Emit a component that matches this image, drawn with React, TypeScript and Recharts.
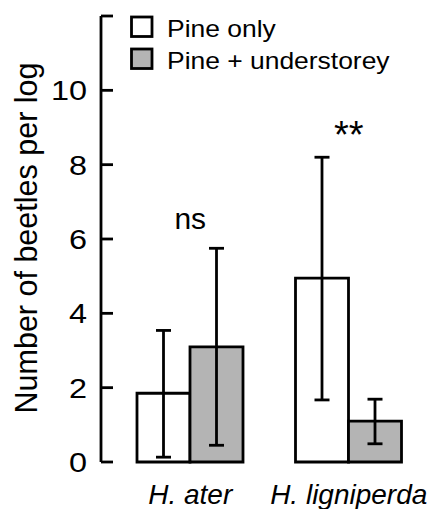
import React from "react";
import {
  BarChart,
  Bar,
  XAxis,
  YAxis,
  ErrorBar,
  Legend,
  ReferenceDot,
} from "recharts";

// species on the x axis
const species = ["H. ater", "H. ligniperda"];

// series names (legend order)
const seriesNames = ["Pine only", "Pine + understorey"];

// means (beetles per log)
const pineOnly = [1.85, 4.95];
const pineUnder = [3.1, 1.1];

// error bar ends
const pineOnlyLow = [0.13, 1.67];
const pineOnlyHigh = [3.54, 8.2];
const pineUnderLow = [0.45, 0.49];
const pineUnderHigh = [5.75, 1.69];

// significance labels above each pair
const sigLabels = ["ns", "**"];
const sigY = [6.27, 8.45];

const yTicks = [0, 2, 4, 6, 8, 10, 12];
const yTickLabels = ["0", "2", "4", "6", "8", "10", ""];

const FONT = '"Liberation Sans", Arial, Helvetica, sans-serif';
const GREY = "#b4b4b4";
const SW = 2.8;

const data = species.map((s, i) => ({
  species: s,
  pineOnly: pineOnly[i],
  pineUnder: pineUnder[i],
  pineOnlyErr: [pineOnly[i] - pineOnlyLow[i], pineOnlyHigh[i] - pineOnly[i]],
  pineUnderErr: [pineUnder[i] - pineUnderLow[i], pineUnderHigh[i] - pineUnder[i]],
}));

const YTick = (props: any) => {
  const { x, y, payload } = props;
  const idx = yTicks.indexOf(payload.value);
  return (
    <g>
      <line x1={x + 14} x2={x + 26} y1={y} y2={y} stroke="#000" strokeWidth={SW} />
      <text
        x={0}
        y={0}
        transform={`translate(${x},${y + 10}) scale(1.2,1)`}
        textAnchor="end"
        fontFamily={FONT}
        fontSize={27}
        fill="#000"
      >
        {yTickLabels[idx]}
      </text>
    </g>
  );
};

const XTick = (props: any) => {
  const { x, y, payload } = props;
  return (
    <text
      x={x}
      y={y + 42}
      textAnchor="middle"
      fontFamily={FONT}
      fontStyle="italic"
      fontSize={28}
      fill="#000"
    >
      {payload.value}
    </text>
  );
};

const YLabel = (props: any) => {
  const { viewBox } = props;
  const cx = viewBox.x + 37;
  const cy = viewBox.y + viewBox.height / 2 - 1;
  return (
    <text
      x={cx}
      y={cy}
      transform={`rotate(-90, ${cx}, ${cy})`}
      textAnchor="middle"
      fontFamily={FONT}
      fontSize={30.5}
      fill="#000"
    >
      Number of beetles per log
    </text>
  );
};

const LegendBox = (props: any) => {
  const items = [...(props.payload || [])].sort(
    (a: any, b: any) => seriesNames.indexOf(a.value) - seriesNames.indexOf(b.value)
  );
  return (
    <svg width={432} height={80} style={{ display: "block" }}>
      {items.map((entry: any, i: number) => (
        <g key={entry.value}>
          <rect
            x={131.5}
            y={17 + i * 32}
            width={20.5}
            height={19.5}
            fill={entry.color}
            stroke="#000"
            strokeWidth={SW}
          />
          <text
            x={0}
            y={0}
            transform={`translate(167,${36.5 + i * 32}) scale(1.15,1)`}
            fontFamily={FONT}
            fontSize={23}
            fill="#000"
          >
            {entry.value}
          </text>
        </g>
      ))}
    </svg>
  );
};

const sigShape = (i: number) => (props: any) => (
  <text
    x={props.cx}
    y={props.cy}
    textAnchor="middle"
    fontFamily={FONT}
    fontSize={i === 0 ? 30 : 38}
    fill="#000"
  >
    {sigLabels[i]}
  </text>
);

export default function App() {
  return (
    <div style={{ position: "absolute", left: 0, top: 0, background: "#fff" }}>
      <BarChart
        width={432}
        height={509}
        data={data}
        margin={{ top: 16, right: 0, left: 0, bottom: 0 }}
        barGap={0}
        barSize={53}
      >
        <XAxis
          dataKey="species"
          axisLine={false}
          tickLine={false}
          tickSize={0}
          tickMargin={0}
          height={47}
          padding={{ left: 10, right: 4 }}
          tick={<XTick />}
          interval={0}
        />
        <YAxis
          domain={[0, 12]}
          ticks={yTicks}
          width={101}
          tickSize={0}
          tickMargin={14}
          tickLine={false}
          axisLine={{ stroke: "#000", strokeWidth: SW }}
          tick={<YTick />}
          interval={0}
          label={YLabel}
        />
        <Legend
          verticalAlign="middle"
          align="center"
          layout="horizontal"
          content={<LegendBox />}
          wrapperStyle={{ top: 0, left: 0, width: 432, height: 80 }}
        />
        <Bar
          dataKey="pineOnly"
          name={seriesNames[0]}
          fill="#ffffff"
          stroke="#000"
          strokeWidth={SW}
          isAnimationActive={false}
        >
          <ErrorBar dataKey="pineOnlyErr" width={7.5} stroke="#000" strokeWidth={SW} />
        </Bar>
        <Bar
          dataKey="pineUnder"
          name={seriesNames[1]}
          fill={GREY}
          stroke="#000"
          strokeWidth={SW}
          isAnimationActive={false}
        >
          <ErrorBar dataKey="pineUnderErr" width={7.5} stroke="#000" strokeWidth={SW} />
        </Bar>
        {species.map((s, i) => (
          <ReferenceDot
            key={s}
            x={s}
            y={sigY[i]}
            r={0}
            stroke="none"
            fill="none"
            shape={sigShape(i)}
          />
        ))}
      </BarChart>
    </div>
  );
}
